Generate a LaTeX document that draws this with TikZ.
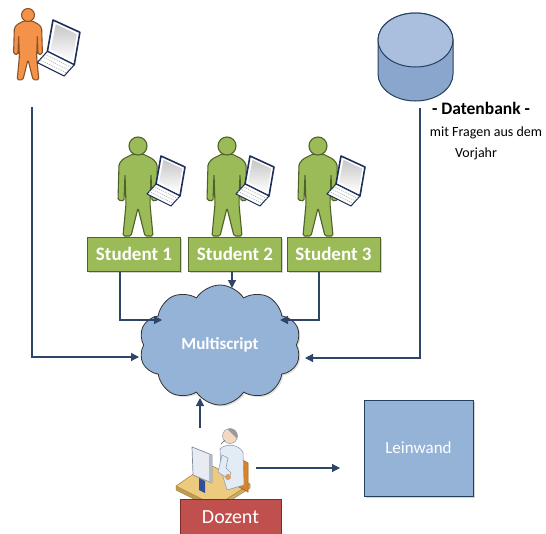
\documentclass[tikz,border=0pt]{standalone}
\usepackage{fontspec}
\setmainfont{Carlito}
\usetikzlibrary{shapes.symbols,arrows.meta,shadows}

\definecolor{arrowc}{HTML}{2E4468}
\definecolor{greenf}{HTML}{9BBB59}
\definecolor{greend}{HTML}{4F6228}
\definecolor{orangef}{HTML}{F4924A}
\definecolor{oranged}{HTML}{8C5426}
\definecolor{bluef}{HTML}{95B3D7}
\definecolor{blued}{HTML}{243F60}
\definecolor{redf}{HTML}{C0504D}
\definecolor{redd}{HTML}{7F2A28}
\definecolor{navy}{HTML}{1F2F5C}
\definecolor{dbbody}{HTML}{8BA6CC}
\definecolor{dbtop}{HTML}{A9BFDD}
\definecolor{deskf}{HTML}{EDCB7E}
\definecolor{deskd}{HTML}{B08A3A}
\definecolor{chairf}{HTML}{D9822B}
\definecolor{chaird}{HTML}{9A5718}
\definecolor{shirt}{HTML}{E3EBF5}
\definecolor{shirtd}{HTML}{8E9DB3}
\definecolor{skin}{HTML}{F3D9C4}
\definecolor{hair}{HTML}{9A9A9A}
\definecolor{mon}{HTML}{E8ECF2}
\definecolor{mond}{HTML}{7F8C9C}
\definecolor{stand}{HTML}{2F4F9A}

\tikzset{
  arr/.style={draw=arrowc, line width=1.2pt, -{Triangle[length=8pt,width=8pt]}},
  stbox/.style={draw=greend, fill=greenf, line width=1pt, minimum width=93pt,
    minimum height=34pt, inner sep=0pt, text=white,
    font=\fontsize{19}{21}\selectfont\bfseries,
    drop shadow={shadow xshift=1.5pt, shadow yshift=-1.5pt, opacity=0.35}},
  dbline/.style={inner sep=0pt, font=\fontsize{14}{16}\selectfont},
  % standing figure, origin at the centre of the head, y grows downwards
  person/.pic={
    \path[pic actions, line width=1.1pt, line join=round, rounded corners=1.5pt]
      (-5,8) -- (-15,13) -- (-19,18) -- (-20,54) -- (-14,55) -- (-13,28)
      -- (-12,58) -- (-15,90) -- (-7,90) -- (0,62) -- (7,90) -- (15,90)
      -- (12,58) -- (13,28) -- (14,55) -- (20,54) -- (19,18) -- (15,13)
      -- (5,8) -- cycle;
    \path[pic actions, line width=1.1pt] (0,0) circle[radius=9pt];
  },
  % notebook held open, origin at the top left corner of the screen
  laptop/.pic={
    \filldraw[draw=navy, fill=white, line width=1.6pt, line join=round]
      (0,0) -- (24,11) -- (19,40) -- (-5,28) -- cycle;
    \shade[top color=black!22, bottom color=white]
      (2.5,3.8) -- (21.2,12.6) -- (17.2,36.2) -- (-2,26.2) -- cycle;
    \filldraw[draw=navy, fill=white, line width=1.1pt, line join=round]
      (-5,28) -- (19,40) -- (10,50) -- (-14,38) -- cycle;
    \foreach \t in {0.25,0.5,0.75}
      \draw[black!35, line width=0.6pt, dash pattern=on 1pt off 1pt]
        (-5-9*\t,28+10*\t) -- (19-9*\t,40+10*\t);
  }
}

\begin{document}
\begin{tikzpicture}[x=1pt, y=-1pt]
\useasboundingbox (0,0) rectangle (546,533);

% ---------- teacher with notebook (top left) ----------
\pic[fill=orangef, draw=oranged, scale=0.72] at (28,15) {person};
\pic[scale=1.12] at (53,20) {laptop};
\coordinate (tl) at (32,107);

% ---------- database ----------
\node[minimum width=75pt, minimum height=88pt] (db) at (415.5,57) {};
\filldraw[fill=dbbody, draw=blued, line width=1pt]
  (378,40) -- (378,74) arc[start angle=180, end angle=360, x radius=37.5pt, y radius=27pt]
  -- (453,40) arc[start angle=0, end angle=180, x radius=37.5pt, y radius=27pt] -- cycle;
\filldraw[fill=dbtop, draw=blued, line width=1pt]
  (415.5,40) ellipse[x radius=37.5pt, y radius=27pt];
\node[inner sep=0pt, font=\fontsize{17.5}{20}\selectfont\bfseries] (dbtitle) at (481,108) {- Datenbank -};
\node[dbline] (dbsub1) at (486,133) {mit Fragen aus dem};
\node[dbline] (dbsub2) at (476,154) {Vorjahr};
\coordinate (dbl) at (420,108);

% ---------- students ----------
\foreach \hx in {138,227,318} {
  \pic[fill=greenf, draw=greend] at (\hx,146) {person};
  \pic at (\hx+23,156) {laptop};
}
\node[stbox] (s1) at (134,254) {Student 1};
\node[stbox] (s2) at (235,254) {Student 2};
\node[stbox] (s3) at (333.5,254) {Student 3};

% ---------- cloud ----------
\node[cloud, cloud puffs=10, cloud puff arc=115, aspect=1.35,
  minimum width=162pt, minimum height=120pt, inner sep=0pt,
  draw=black!80, fill=bluef, line width=0.8pt, text=white,
  font=\fontsize{17}{19}\selectfont\bfseries,
  drop shadow={shadow xshift=1.5pt, shadow yshift=-1.5pt, opacity=0.25}]
  (cloud) at (220,345) {Multiscript};

\coordinate (inL) at (139,357);
\coordinate (inR) at (305,358);
\coordinate (in1) at (162,320);
\coordinate (in2) at (232,288);
\coordinate (in3) at (280,320);
\coordinate (in4) at (200,398);

% ---------- lecturer at desk ----------
\node[minimum width=82pt, minimum height=82pt] (dozicon) at (215,469) {};
\filldraw[fill=deskd!85, draw=deskd, line width=0.5pt, line join=round]
  (176,486) -- (216,506) -- (216,510) -- (176,490) -- cycle;
\filldraw[fill=deskd!70, draw=deskd, line width=0.5pt, line join=round]
  (216,506) -- (250,484) -- (250,488) -- (216,510) -- cycle;
\filldraw[fill=deskf, draw=deskd, line width=0.6pt, line join=round]
  (176,486) -- (208,464) -- (250,484) -- (216,506) -- cycle;
\filldraw[fill=chairf, draw=chaird, line width=0.5pt]
  (239,458) -- (248,463) -- (248,492) -- (239,487) -- cycle;
\filldraw[fill=shirt, draw=shirtd, line width=0.6pt, line join=round]
  (220,449) .. controls (226,443) and (238,444) .. (243,452)
  -- (244,485) -- (227,490) -- (221,470) -- cycle;
\filldraw[fill=shirt, draw=shirtd, line width=0.6pt, line join=round]
  (222,455) -- (218,472) -- (228,479) -- (231,473) -- (226,468) -- (228,458) -- cycle;
\fill[fill=chairf!70!skin] (228,477) circle[radius=3pt];
\filldraw[fill=skin, draw=shirtd, line width=0.5pt] (230,436) circle[radius=7.5pt];
\fill[hair] ([shift={(110:7.5pt)}]230,436)
  arc[start angle=110, end angle=-20, radius=7.5pt] -- cycle;
\draw[black!55, line width=0.7pt] (225,440) -- (221,444);
\filldraw[fill=mon, draw=mond, line width=0.7pt, line join=round]
  (192,447) -- (212,455) -- (212,483) -- (193,475) -- cycle;
\fill[mond!60] (209,454) -- (212,455) -- (212,483) -- (209,482) -- cycle;
\fill[stand] (199,478) -- (205,481) -- (205,493) -- (199,490) -- cycle;

\node[draw=redd, fill=redf, line width=1pt, minimum width=101pt,
  minimum height=40pt, text=white, inner sep=0pt,
  font=\fontsize{20}{22}\selectfont] (dozent) at (230.5,519) {\raisebox{3pt}{Dozent}};

% ---------- projection screen ----------
\node[draw=blued, fill=bluef, line width=1pt, minimum width=109pt,
  minimum height=96pt, inner sep=0pt, text=white,
  font=\fontsize{17}{19}\selectfont,
  drop shadow={shadow xshift=2pt, shadow yshift=-2pt, opacity=0.35}]
  (lw) at (418.5,448) {Leinwand};
\coordinate (lwin) at (340,468);

% ---------- connectors ----------
\draw[arr] (tl) |- (inL);
\draw[arr] (dbl) |- (inR);
\draw[arr] ([xshift=-14pt]s1.south) |- (in1);
\draw[arr] ([xshift=-3pt]s2.south) -- (in2);
\draw[arr] ([xshift=-14.5pt]s3.south) |- (in3);
\draw[arr] ([xshift=-15pt]dozicon.north) -- (in4);
\draw[arr] (dozicon.east |- lwin) -- (lwin);
\end{tikzpicture}
\end{document}
